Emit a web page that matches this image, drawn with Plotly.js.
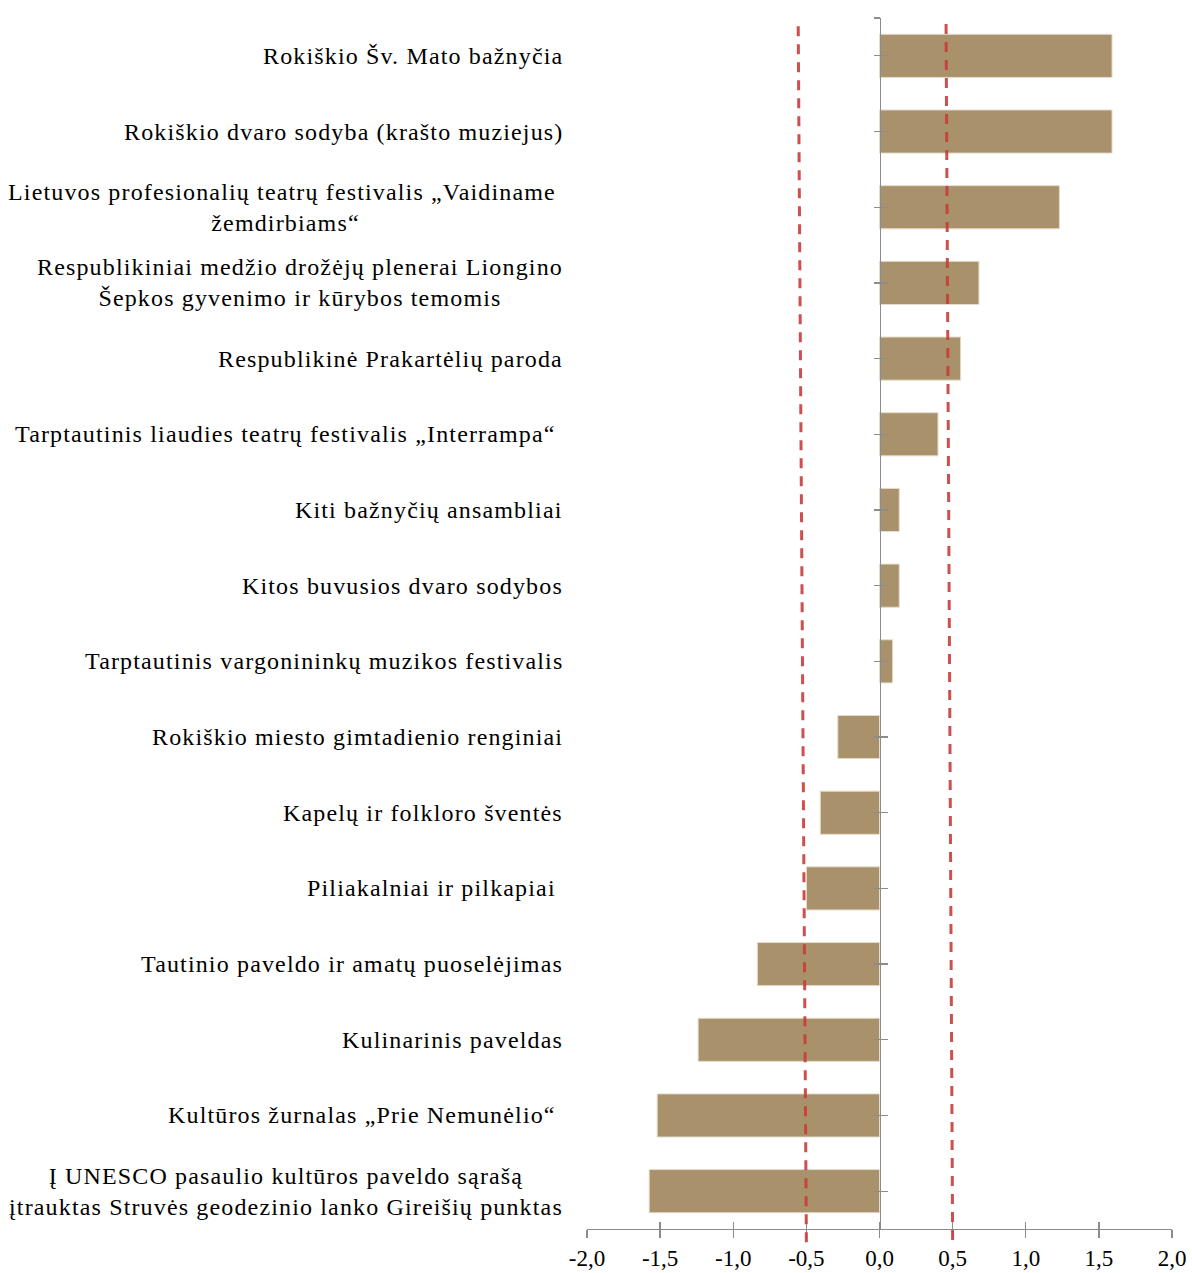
<!DOCTYPE html>
<html>
<head>
<meta charset="utf-8">
<script src="https://cdn.plot.ly/plotly-3.0.1.min.js"></script>
<style>
html,body{margin:0;padding:0;background:#fff;}
#chart{width:1192px;height:1273px;}
.annotation-text{letter-spacing:1.15px;}
</style>
</head>
<body>
<div id="chart"></div>
<script>
const categories = [
  "Rokiškio Šv. Mato bažnyčia",
  "Rokiškio dvaro sodyba (krašto muziejus)",
  "Lietuvos profesionalių teatrų festivalis „Vaidiname\u00a0<br>žemdirbiams“",
  "Respublikiniai medžio drožėjų plenerai Liongino<br>Šepkos gyvenimo ir kūrybos temomis",
  "Respublikinė Prakartėlių paroda",
  "Tarptautinis liaudies teatrų festivalis „Interrampa“\u00a0",
  "Kiti bažnyčių ansambliai",
  "Kitos buvusios dvaro sodybos",
  "Tarptautinis vargonininkų muzikos festivalis",
  "Rokiškio miesto gimtadienio renginiai",
  "Kapelų ir folkloro šventės",
  "Piliakalniai ir pilkapiai\u00a0",
  "Tautinio paveldo ir amatų puoselėjimas",
  "Kulinarinis paveldas",
  "Kultūros žurnalas „Prie Nemunėlio“\u00a0",
  "Į UNESCO pasaulio kultūros paveldo sąrašą<br>įtrauktas Struvės geodezinio lanko Gireišių punktas"
];
const values = [1.59, 1.59, 1.23, 0.68, 0.555, 0.40, 0.135, 0.135, 0.09, -0.285, -0.405, -0.50, -0.835, -1.24, -1.52, -1.575];
const xTickVals = [-2, -1.5, -1, -0.5, 0, 0.5, 1, 1.5, 2];
const xTickText = ["-2,0", "-1,5", "-1,0", "-0,5", "0,0", "0,5", "1,0", "1,5", "2,0"];
const thresholdLow = -0.5;
const thresholdHigh = 0.5;

const font = {family: "Liberation Serif, Times New Roman, serif", size: 22, color: "#000"};
const labelFont = {family: "Liberation Serif, Times New Roman, serif", size: 24, color: "#000"};
const axisGray = "#8c8c8c";
const n = categories.length;
const idx = categories.map((_, i) => i);
const capTicks = [-0.5].concat(idx);

const trace = {
  type: "bar", orientation: "h",
  x: values, y: categories,
  marker: {color: "#a8916b", line: {color: "#e6dccb", width: 1}},
  hoverinfo: "x+y"
};

const annotations = categories.map(c => ({
  xref: "paper", yref: "y", x: 0, y: c,
  xanchor: "right", yanchor: "middle",
  xshift: -22, text: c, showarrow: false,
  align: "center", font: labelFont
}));

const layout = {
  width: 1192, height: 1273,
  margin: {l: 587, r: 20, t: 18, b: 44, pad: 0},
  paper_bgcolor: "#fff", plot_bgcolor: "#fff",
  showlegend: false, bargap: 0.43,
  font: font,
  xaxis: {
    range: [-2, 2], tickvals: xTickVals, ticktext: xTickText,
    showgrid: false, zeroline: false, showline: true,
    linecolor: axisGray, linewidth: 1.3,
    ticks: "outside", ticklen: 8, tickcolor: axisGray, tickwidth: 1.3,
    tickfont: {family: font.family, size: 23, color: "#000"}, fixedrange: true
  },
  xaxis2: {
    range: [-2, 2], tickvals: xTickVals, overlaying: "x", anchor: "y", side: "bottom",
    showgrid: false, zeroline: false, showline: false, showticklabels: false,
    ticks: "inside", ticklen: 7, tickcolor: axisGray, tickwidth: 1.3
  },
  yaxis: {
    type: "category", range: [n - 0.5, -0.5],
    showgrid: false, zeroline: false, showline: false, showticklabels: false, ticks: ""
  },
  yaxis2: {
    range: [n - 0.5, -0.5], tickvals: capTicks, overlaying: "y", anchor: "free", position: 0.5,
    showgrid: false, zeroline: false, showline: true, linecolor: axisGray, linewidth: 1.3,
    showticklabels: false, ticks: "outside", ticklen: 6, tickcolor: axisGray, tickwidth: 1.3
  },
  yaxis3: {
    range: [n - 0.5, -0.5], tickvals: capTicks, overlaying: "y", anchor: "free", position: 0.5,
    showgrid: false, zeroline: false, showline: false,
    showticklabels: false, ticks: "inside", ticklen: 7, tickcolor: axisGray, tickwidth: 1.3
  },
  shapes: [
    {type: "line", xref: "x", yref: "paper", x0: thresholdLow, x1: thresholdLow - 0.056, y0: -0.011, y1: 0.996,
     line: {color: "rgba(200,60,60,0.9)", width: 3, dash: "10px,8px"}, layer: "above"},
    {type: "line", xref: "x", yref: "paper", x0: thresholdHigh, x1: thresholdHigh - 0.045, y0: -0.009, y1: 1.0,
     line: {color: "rgba(200,60,60,0.9)", width: 3, dash: "10px,8px"}, layer: "above"}
  ],
  annotations: annotations
};

const dummy2 = {type: "scatter", x: [], y: [], xaxis: "x2", yaxis: "y", hoverinfo: "skip"};
const dummy3 = {type: "scatter", x: [], y: [], xaxis: "x", yaxis: "y2", hoverinfo: "skip"};
const dummy4 = {type: "scatter", x: [], y: [], xaxis: "x", yaxis: "y3", hoverinfo: "skip"};

Plotly.newPlot("chart", [trace, dummy2, dummy3, dummy4], layout, {displayModeBar: false, staticPlot: true});
</script>
</body>
</html>
